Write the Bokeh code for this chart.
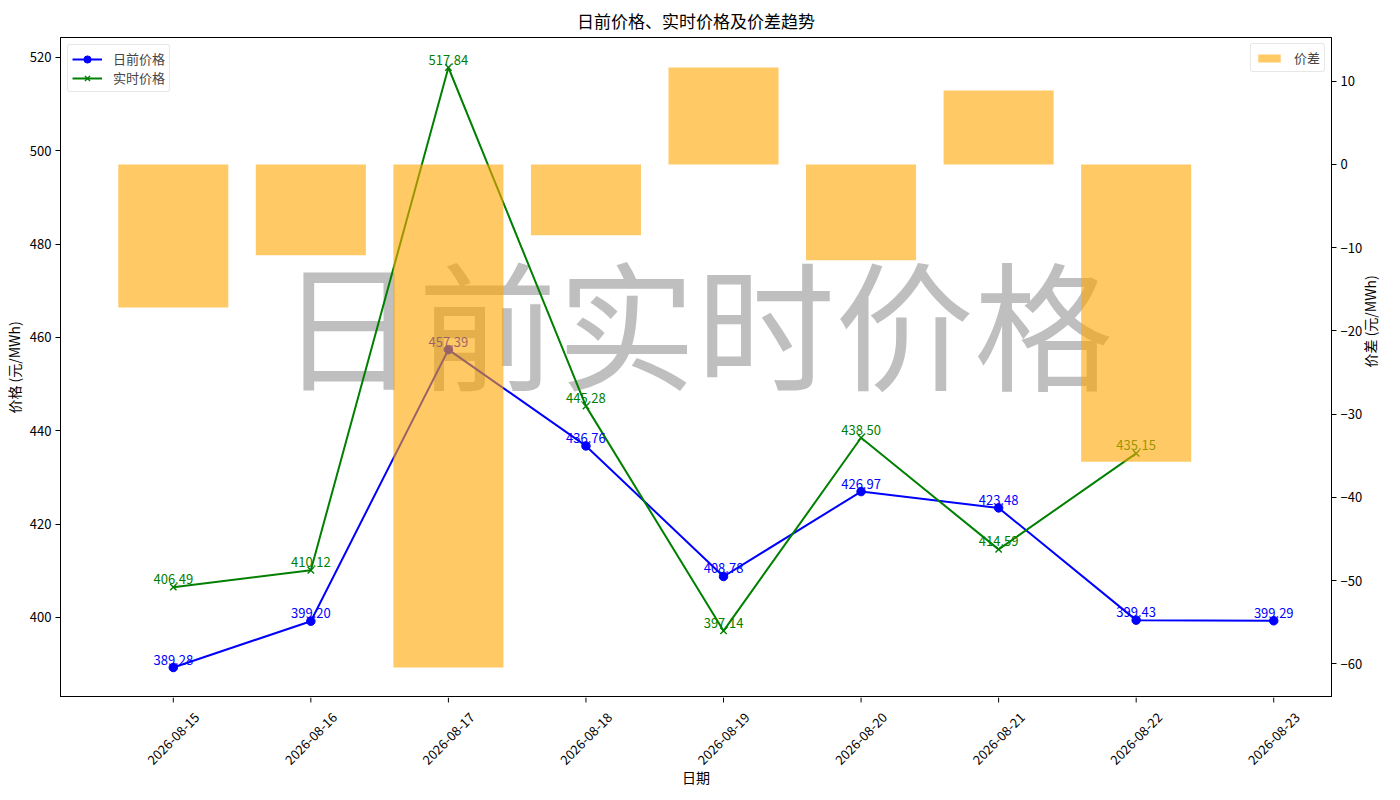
import math
from bokeh.plotting import figure
from bokeh.layouts import column
from bokeh.models import Range1d, LinearAxis, FixedTicker, Legend, LegendItem
from bokeh.core.properties import value
from bokeh.embed import file_html
from bokeh.resources import INLINE

# ---------------- data ----------------
dates = ["2026-08-15", "2026-08-16", "2026-08-17", "2026-08-18", "2026-08-19",
         "2026-08-20", "2026-08-21", "2026-08-22", "2026-08-23"]
day_ahead = [389.28, 399.20, 457.39, 436.76, 408.78, 426.97, 423.48, 399.43, 399.29]
real_time = [406.49, 410.12, 517.84, 445.28, 397.14, 438.50, 414.59, 435.15]
spread = [-17.21, -10.92, -60.45, -8.52, 11.64, -11.53, 8.89, -35.72]
price_ticks = [400, 420, 440, 460, 480, 500, 520]
spread_ticks = [-60, -50, -40, -30, -20, -10, 0, 10]

FONT = "Noto Sans CJK SC"
BAR_W = 0.8
FRAME_W, FRAME_H = 1271, 660
STRIP_H = 94
BORDER_L, BORDER_R, BORDER_T = 56, 40, 30

x_da = list(range(len(day_ahead)))
x_rt = list(range(len(real_time)))
x_sp = list(range(len(spread)))
x_dates = list(range(len(dates)))

# ranges with matplotlib-like 5% margins
def padded(lo, hi, frac=0.05):
    d = (hi - lo) * frac
    return lo - d, hi + d

x_lo, x_hi = padded(min(x_sp) - BAR_W / 2, max(x_da))
y_lo, y_hi = padded(min(day_ahead + real_time), max(day_ahead + real_time))
s_lo, s_hi = padded(min(0, min(spread)), max(0, max(spread)))

x_range = Range1d(x_lo, x_hi)

p = figure(frame_width=FRAME_W, frame_height=FRAME_H, output_backend="svg",
           toolbar_location=None, x_range=x_range, y_range=Range1d(y_lo, y_hi),
           x_axis_location=None,
           min_border_left=BORDER_L, min_border_right=BORDER_R, min_border_top=BORDER_T,
           min_border_bottom=0, title="日前价格、实时价格及价差趋势")
p.extra_y_ranges = {"diff": Range1d(s_lo, s_hi)}

p.title.align = "center"
p.title.text_font = FONT
p.title.text_font_size = "17px"
p.title.text_font_style = "normal"
p.title.text_color = "black"

p.xgrid.visible = False
p.ygrid.visible = False
p.outline_line_color = "black"
p.outline_line_width = 1
p.outline_line_alpha = 1

# watermark (behind everything)
p.text(x=[(x_lo + x_hi) / 2], y=[y_lo + (y_hi - y_lo) * 0.573], text=["日前实时价格"],
       text_font=value(FONT), text_font_size="139px", text_color="gray", text_alpha=0.5,
       text_align="center", text_baseline="middle")

# lines
l1 = p.line(x_da, day_ahead, line_color="blue", line_width=2)
s1 = p.scatter(x_da, day_ahead, marker="circle", size=8.5, fill_color="blue", line_color="blue")
l2 = p.line(x_rt, real_time, line_color="green", line_width=2)
s2 = p.scatter(x_rt, real_time, marker="x", size=9, line_color="green", line_width=1.4)

# value labels
p.text(x=x_da, y=day_ahead, text=[f"{v:.2f}" for v in day_ahead], text_color="blue",
       text_font=value(FONT), text_font_size="13px", text_align="center",
       text_baseline="bottom", y_offset=-3)
p.text(x=x_rt, y=real_time, text=[f"{v:.2f}" for v in real_time], text_color="green",
       text_font=value(FONT), text_font_size="13px", text_align="center",
       text_baseline="bottom", y_offset=-3)

# spread bars (drawn on top, like a twinx axis)
bars = p.vbar(x=x_sp, top=spread, bottom=0, width=BAR_W, fill_color="orange", fill_alpha=0.6,
              line_color=None, y_range_name="diff")

# y axes
def style_axis(ax):
    ax.axis_line_color = "black"
    ax.major_tick_line_color = "black"
    ax.major_tick_out = 5
    ax.major_tick_in = 0
    ax.minor_tick_line_color = None
    ax.major_label_text_font = FONT
    ax.major_label_text_font_size = "13px"
    ax.major_label_text_color = "black"
    ax.major_label_standoff = 4
    ax.axis_label_text_font = FONT
    ax.axis_label_text_font_size = "14px"
    ax.axis_label_text_font_style = "normal"
    ax.axis_label_text_color = "black"

ya = p.yaxis[0]
ya.ticker = FixedTicker(ticks=price_ticks)
ya.axis_label = "价格 (元/MWh)"
style_axis(ya)
ya.axis_label_standoff = 3

ra = LinearAxis(y_range_name="diff", ticker=FixedTicker(ticks=spread_ticks),
                axis_label="价差 (元/MWh)")
style_axis(ra)
ra.axis_label_standoff = 5
if "axis_label_orientation" in ra.properties():
    ra.axis_label_orientation = math.pi / 2
p.add_layout(ra, "right")

# legends
def style_legend(lg):
    lg.label_text_font = FONT
    lg.label_text_font_size = "13px"
    lg.border_line_color = "#d0d0d0"
    lg.background_fill_alpha = 0.8
    lg.padding = 4
    lg.spacing = 0
    lg.margin = 7
    lg.label_standoff = 11
    lg.glyph_width = 30
    if "border_radius" in lg.properties():
        lg.border_radius = 3

leg1 = Legend(items=[LegendItem(label="日前价格", renderers=[l1, s1]),
                     LegendItem(label="实时价格", renderers=[l2, s2])],
              location="top_left")
style_legend(leg1)
leg1.glyph_height = 18
leg1.label_height = 18
p.add_layout(leg1)

leg2 = Legend(items=[LegendItem(label="价差", renderers=[bars])], location="top_right")
style_legend(leg2)
leg2.glyph_height = 10
leg2.label_height = 16
leg2.glyph_width = 28
leg2.margin = 6
p.add_layout(leg2)

# ---- x axis strip: ticks, rotated date labels centred on ticks, axis title ----
strip = figure(frame_width=FRAME_W, frame_height=STRIP_H, output_backend="svg",
               toolbar_location=None, x_range=x_range, y_range=Range1d(-STRIP_H, 0),
               x_axis_location=None, y_axis_location=None,
               min_border_left=BORDER_L, min_border_right=BORDER_R,
               min_border_top=0, min_border_bottom=0)
strip.outline_line_color = None
strip.xgrid.visible = False
strip.ygrid.visible = False
strip.segment(x0=x_dates, y0=[0] * len(x_dates), x1=x_dates, y1=[-5] * len(x_dates),
              line_color="black", line_width=1)
strip.text(x=x_dates, y=[-41] * len(x_dates), text=dates, angle=math.pi / 4,
           text_font=value(FONT), text_font_size="13px", text_color="black",
           text_align="center", text_baseline="middle")
strip.text(x=[(x_lo + x_hi) / 2], y=[-79], text=["日期"],
           text_font=value(FONT), text_font_size="14px", text_color="black",
           text_align="center", text_baseline="middle")

layout = column(p, strip, spacing=0)
open("out.html", "w").write(file_html(layout, INLINE))
